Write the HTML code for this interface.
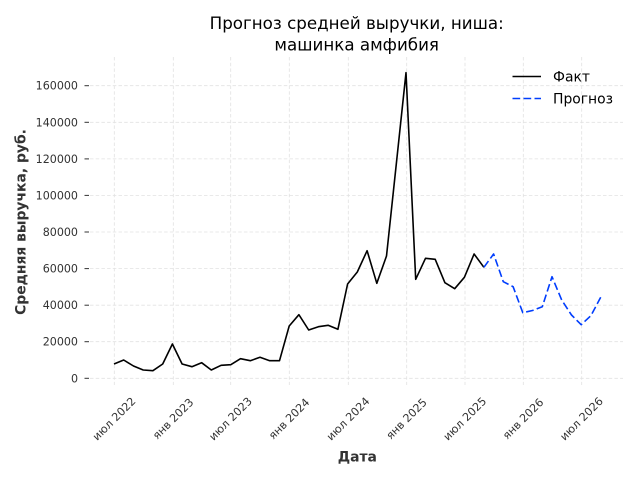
<!DOCTYPE html>
<html><head><meta charset="utf-8"><style>
html,body{margin:0;padding:0;background:#fff;}
svg{display:block;}
text{font-family:"DejaVu Sans","Liberation Sans",sans-serif;}
</style></head><body>
<svg width="640" height="480" viewBox="0 0 640 480" xmlns="http://www.w3.org/2000/svg">
<rect width="640" height="480" fill="#fff"/>
<g stroke="#e2e2e2" stroke-width="0.8" stroke-dasharray="3.5,2.2" fill="none">
<line x1="90" x2="623" y1="378.3" y2="378.3"/>
<line x1="90" x2="623" y1="341.7" y2="341.7"/>
<line x1="90" x2="623" y1="305.2" y2="305.2"/>
<line x1="90" x2="623" y1="268.6" y2="268.6"/>
<line x1="90" x2="623" y1="232.0" y2="232.0"/>
<line x1="90" x2="623" y1="195.4" y2="195.4"/>
<line x1="90" x2="623" y1="158.9" y2="158.9"/>
<line x1="90" x2="623" y1="122.3" y2="122.3"/>
<line x1="90" x2="623" y1="85.7" y2="85.7"/>
<line y1="57" y2="385" x1="114.3" x2="114.3"/>
<line y1="57" y2="385" x1="173.3" x2="173.3"/>
<line y1="57" y2="385" x1="230.7" x2="230.7"/>
<line y1="57" y2="385" x1="289.3" x2="289.3"/>
<line y1="57" y2="385" x1="348.3" x2="348.3"/>
<line y1="57" y2="385" x1="406.7" x2="406.7"/>
<line y1="57" y2="385" x1="465" x2="465"/>
<line y1="57" y2="385" x1="523.3" x2="523.3"/>
<line y1="57" y2="385" x1="581.7" x2="581.7"/>
</g>
<g stroke="#333" stroke-width="1">
<line x1="84.5" x2="89" y1="378.3" y2="378.3"/>
<line x1="84.5" x2="89" y1="341.7" y2="341.7"/>
<line x1="84.5" x2="89" y1="305.2" y2="305.2"/>
<line x1="84.5" x2="89" y1="268.6" y2="268.6"/>
<line x1="84.5" x2="89" y1="232.0" y2="232.0"/>
<line x1="84.5" x2="89" y1="195.4" y2="195.4"/>
<line x1="84.5" x2="89" y1="158.9" y2="158.9"/>
<line x1="84.5" x2="89" y1="122.3" y2="122.3"/>
<line x1="84.5" x2="89" y1="85.7" y2="85.7"/>
</g>
<g font-size="11.1" fill="#333" text-anchor="end">
<text x="78" y="382.3">0</text>
<text x="78" y="345.7">20000</text>
<text x="78" y="309.2">40000</text>
<text x="78" y="272.6">60000</text>
<text x="78" y="236.0">80000</text>
<text x="78" y="199.4">100000</text>
<text x="78" y="162.9">120000</text>
<text x="78" y="126.3">140000</text>
<text x="78" y="89.7">160000</text>
</g>
<g font-size="11.1" fill="#333" text-anchor="middle" dominant-baseline="central">
<text x="114.3" y="419" transform="rotate(-45 114.3 419)">июл 2022</text>
<text x="173.3" y="419" transform="rotate(-45 173.3 419)">янв 2023</text>
<text x="230.7" y="419" transform="rotate(-45 230.7 419)">июл 2023</text>
<text x="289.3" y="419" transform="rotate(-45 289.3 419)">янв 2024</text>
<text x="348.3" y="419" transform="rotate(-45 348.3 419)">июл 2024</text>
<text x="406.7" y="419" transform="rotate(-45 406.7 419)">янв 2025</text>
<text x="465" y="419" transform="rotate(-45 465 419)">июл 2025</text>
<text x="523.3" y="419" transform="rotate(-45 523.3 419)">янв 2026</text>
<text x="581.7" y="419" transform="rotate(-45 581.7 419)">июл 2026</text>
</g>
<polyline fill="none" stroke="#000" stroke-width="1.6" stroke-linejoin="round" points="
114.0,364 123.7,360 133.5,366 143.2,370 152.9,370.7 162.7,364 172.4,344 182.1,364 191.9,366.7 201.6,362.7 211.3,370 221.1,365.3 230.8,364.7 240.5,358.7 250.3,360.7 260.0,357.3 269.7,360.7 279.5,360.7 289.2,326 298.9,314.7 308.7,330 318.4,326.7 328.1,325.3 337.9,329.3 347.6,284 357.3,272 367.1,250.7 376.8,283.3 386.5,256 396.3,164 406.0,72.7 415.7,279.3 425.5,258.3 435.2,259.3 444.9,282.7 454.7,288.7 464.4,277.3 474.1,254 483.9,267.3"/>
<polyline fill="none" stroke="#003DFD" stroke-width="1.6" stroke-dasharray="7.7,3.3" stroke-linejoin="round" points="
483.9,267.3 493.6,254 503.3,281.7 513.1,286.7 522.8,312.7 532.5,310.5 542.3,306.7 552.0,276.7 561.7,300 571.5,315 581.2,324.7 590.9,315.7 600.7,297.3"/>
<line x1="512.5" x2="541" y1="76.5" y2="76.5" stroke="#000" stroke-width="1.6"/>
<line x1="512.5" x2="541" y1="98.5" y2="98.5" stroke="#003DFD" stroke-width="1.6" stroke-dasharray="7.7,3.3"/>
<g font-size="13.9" fill="#000">
<text x="553" y="81.5">Факт</text>
<text x="553" y="103.5">Прогноз</text>
</g>
<g font-size="16.7" fill="#000" text-anchor="middle">
<text x="356.7" y="29">Прогноз средней выручки, ниша:</text>
<text x="356.7" y="50.5">машинка амфибия</text>
</g>
<text x="357.3" y="461.5" font-size="13.9" font-weight="bold" fill="#333" text-anchor="middle">Дата</text>
<text x="0" y="0" font-size="13.9" font-weight="bold" fill="#333" text-anchor="middle" transform="translate(25.5 222) rotate(-90)">Средняя выручка, руб.</text>
</svg>
</body></html>
